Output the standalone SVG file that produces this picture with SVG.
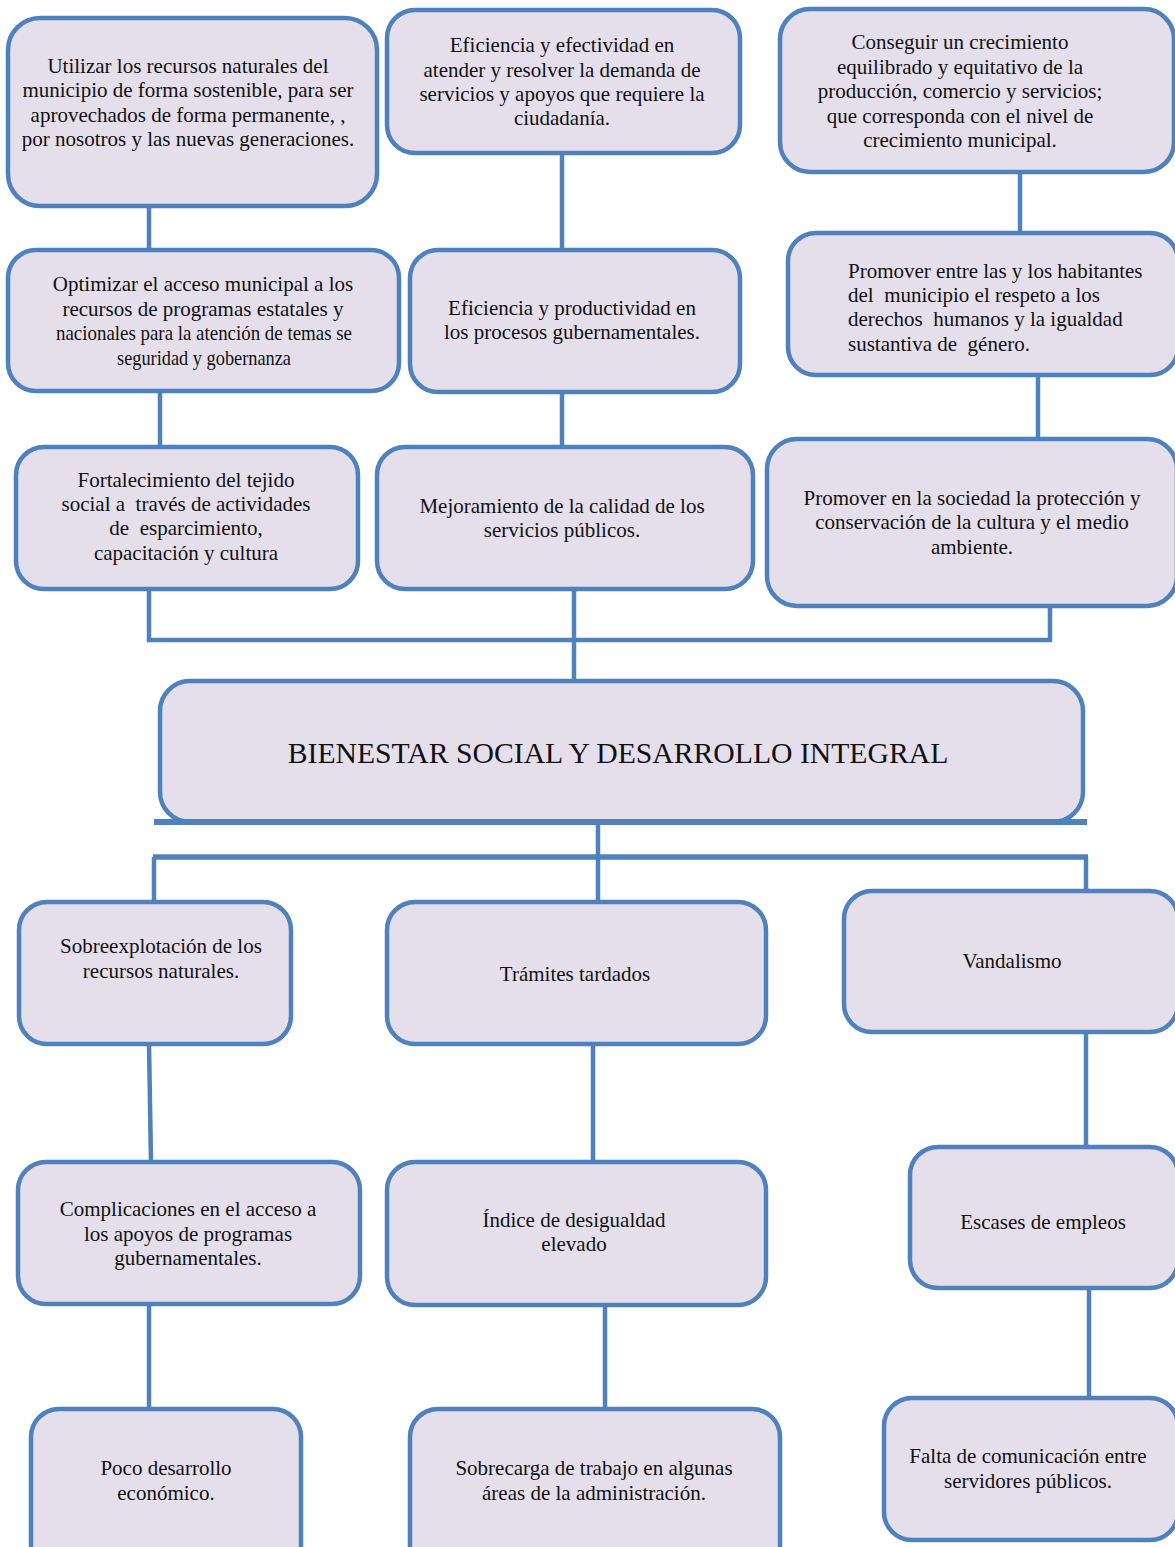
<svg xmlns="http://www.w3.org/2000/svg" width="1175" height="1547" viewBox="0 0 1175 1547">
<style>
.box{fill:#E5DFEC;stroke:#4F81BD;stroke-width:4.5}
.c{fill:none;stroke:#4F81BD;stroke-width:4.5}
text{font-family:"Liberation Serif","Times New Roman",serif;font-size:21px;fill:#111}
.m{text-anchor:middle}
.t{font-size:29.7px}
</style>
<rect width="1175" height="1547" fill="#fff"/>
<g id="connectors">
<line class="c" x1="149" y1="206" x2="149" y2="250"/>
<line class="c" x1="562" y1="153" x2="562" y2="250"/>
<line class="c" x1="1020" y1="172" x2="1020" y2="233"/>
<line class="c" x1="160" y1="391" x2="160" y2="447"/>
<line class="c" x1="562" y1="392" x2="562" y2="447"/>
<line class="c" x1="1038" y1="375" x2="1038" y2="439"/>
<polyline class="c" points="149,589 149,640 1050,640 1050,606"/>
<line class="c" x1="574" y1="589" x2="574" y2="681"/>
<line class="c" x1="598" y1="822" x2="598" y2="902"/>
<line class="c" x1="153" y1="857" x2="1088" y2="857" style="stroke-width:5.5"/>
<line class="c" x1="154" y1="857" x2="154" y2="902"/>
<line class="c" x1="1086" y1="857" x2="1086" y2="891"/>
<line class="c" x1="149" y1="1044" x2="151" y2="1162"/>
<line class="c" x1="593" y1="1044" x2="593" y2="1162"/>
<line class="c" x1="1086" y1="1032" x2="1086" y2="1147"/>
<line class="c" x1="149" y1="1304" x2="149" y2="1409"/>
<line class="c" x1="605" y1="1305" x2="605" y2="1409"/>
<line class="c" x1="1089" y1="1288" x2="1089" y2="1398"/>
</g>
<g id="n1"><rect class="box" x="8" y="18" width="369" height="188" rx="32"/>
<text class="m" x="188" y="72.5">Utilizar los recursos naturales del</text>
<text class="m" x="188" y="97">municipio de forma sostenible, para ser</text>
<text class="m" x="188" y="121.5">aprovechados de forma permanente, ,</text>
<text class="m" x="188" y="146">por nosotros y las nuevas generaciones.</text></g>
<g id="n2"><rect class="box" x="387" y="10" width="353" height="143" rx="28"/>
<text class="m" x="562" y="51.5">Eficiencia y efectividad en</text>
<text class="m" x="562" y="76.5">atender y resolver la demanda de</text>
<text class="m" x="562" y="100.5">servicios y apoyos que requiere la</text>
<text class="m" x="562" y="125">ciudadanía.</text></g>
<g id="n3"><rect class="box" x="780" y="9" width="394" height="163" rx="30"/>
<text class="m" x="960" y="49">Conseguir un crecimiento</text>
<text class="m" x="960" y="74">equilibrado y equitativo de la</text>
<text class="m" x="960" y="98">producción, comercio y servicios;</text>
<text class="m" x="960" y="123">que corresponda con el nivel de</text>
<text class="m" x="960" y="147">crecimiento municipal.</text></g>
<g id="n4"><rect class="box" x="8" y="250" width="391" height="141" rx="28"/>
<text class="m" x="203" y="291">Optimizar el acceso municipal a los</text>
<text class="m" x="203" y="316">recursos de programas estatales y</text>
<text class="m" x="204" y="340" textLength="296" lengthAdjust="spacingAndGlyphs">nacionales para la atención de temas se</text>
<text class="m" x="204" y="365" textLength="174" lengthAdjust="spacingAndGlyphs">seguridad y gobernanza</text></g>
<g id="n5"><rect class="box" x="410" y="250" width="330" height="142" rx="28"/>
<text class="m" x="572" y="315">Eficiencia y productividad en</text>
<text class="m" x="572" y="339">los procesos gubernamentales.</text></g>
<g id="n6"><rect class="box" x="788" y="233" width="390" height="142" rx="28"/>
<text x="848" y="277.5" xml:space="preserve">Promover entre las y los habitantes</text>
<text x="848" y="302" xml:space="preserve">del  municipio el respeto a los</text>
<text x="848" y="326" xml:space="preserve">derechos  humanos y la igualdad</text>
<text x="848" y="350.5" xml:space="preserve">sustantiva de  género.</text></g>
<g id="n7"><rect class="box" x="16" y="447" width="342" height="142" rx="28"/>
<text class="m" x="186" y="486.5">Fortalecimiento del tejido</text>
<text class="m" x="186" y="510.5" xml:space="preserve">social a  través de actividades</text>
<text class="m" x="186" y="535" xml:space="preserve">de  esparcimiento,</text>
<text class="m" x="186" y="560">capacitación y cultura</text></g>
<g id="n8"><rect class="box" x="377" y="447" width="376" height="142" rx="28"/>
<text class="m" x="562" y="512.5">Mejoramiento de la calidad de los</text>
<text class="m" x="562" y="537">servicios públicos.</text></g>
<g id="n9"><rect class="box" x="767" y="439" width="410" height="167" rx="30"/>
<text class="m" x="972" y="504.5">Promover en la sociedad la protección y</text>
<text class="m" x="972" y="529">conservación de la cultura y el medio</text>
<text class="m" x="972" y="553.5">ambiente.</text></g>
<g id="n0"><rect class="box" x="160" y="681" width="923" height="141" rx="30"/>
<line x1="154" y1="822" x2="1087" y2="822" stroke="#4F81BD" stroke-width="6"/>
<text class="m t" x="618" y="763">BIENESTAR SOCIAL Y DESARROLLO INTEGRAL</text></g>
<g id="n10"><rect class="box" x="19" y="902" width="272" height="142" rx="28"/>
<text class="m" x="161" y="953">Sobreexplotación de los</text>
<text class="m" x="161" y="977.5">recursos naturales.</text></g>
<g id="n11"><rect class="box" x="387" y="902" width="379" height="142" rx="28"/>
<text class="m" x="575" y="980.5">Trámites tardados</text></g>
<g id="n12"><rect class="box" x="844" y="891" width="334" height="141" rx="28"/>
<text class="m" x="1012" y="967.5">Vandalismo</text></g>
<g id="n13"><rect class="box" x="18" y="1162" width="342" height="142" rx="28"/>
<text class="m" x="188" y="1215.5">Complicaciones en el acceso a</text>
<text class="m" x="188" y="1240.5">los apoyos de programas</text>
<text class="m" x="188" y="1264.5">gubernamentales.</text></g>
<g id="n14"><rect class="box" x="387" y="1162" width="379" height="143" rx="28"/>
<text class="m" x="574" y="1226.5">Índice de desigualdad</text>
<text class="m" x="574" y="1251">elevado</text></g>
<g id="n15"><rect class="box" x="910" y="1147" width="268" height="141" rx="28"/>
<text class="m" x="1043" y="1228.5">Escases de empleos</text></g>
<g id="n16"><rect class="box" x="31" y="1409" width="270" height="170" rx="28"/>
<text class="m" x="166" y="1475">Poco desarrollo</text>
<text class="m" x="166" y="1499.5">económico.</text></g>
<g id="n17"><rect class="box" x="410" y="1409" width="370" height="170" rx="28"/>
<text class="m" x="594" y="1475">Sobrecarga de trabajo en algunas</text>
<text class="m" x="594" y="1499.5">áreas de la administración.</text></g>
<g id="n18"><rect class="box" x="884" y="1398" width="294" height="142" rx="28"/>
<text class="m" x="1028" y="1463">Falta de comunicación entre</text>
<text class="m" x="1028" y="1487.5">servidores públicos.</text></g>
</svg>
